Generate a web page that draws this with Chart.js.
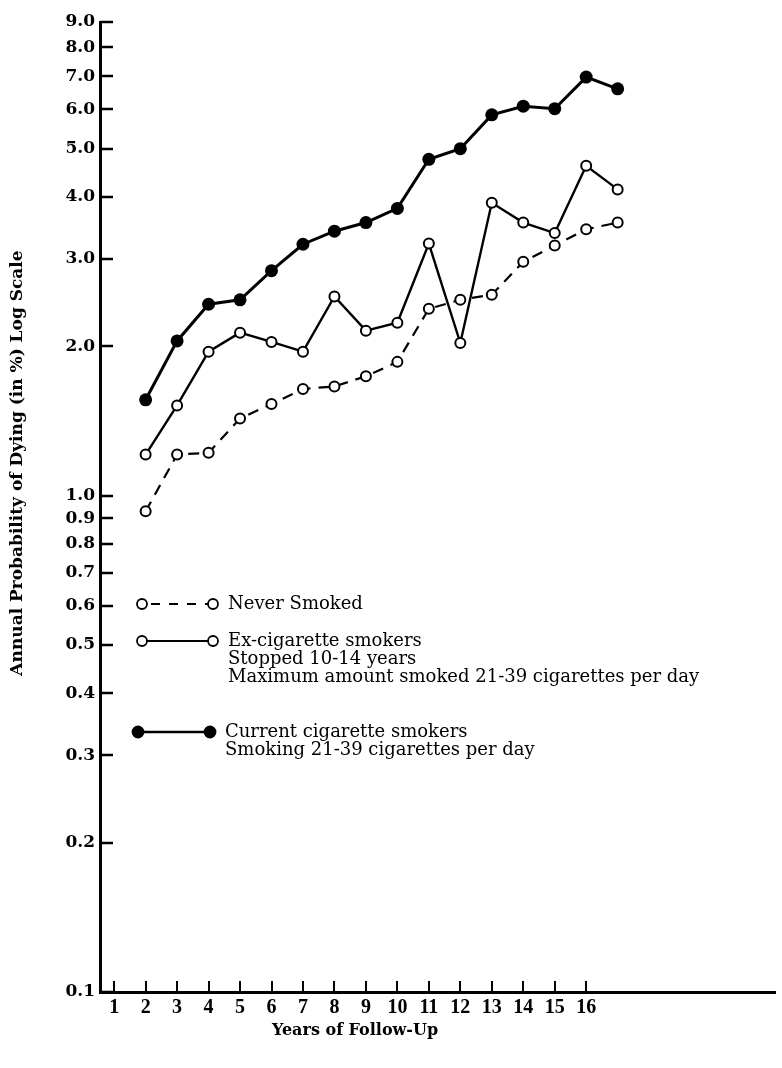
<!DOCTYPE html>
<html>
<head>
<meta charset="utf-8">
<title>Annual Probability of Dying</title>
<script src="https://cdn.jsdelivr.net/npm/chart.js@4.4.1/dist/chart.umd.min.js"></script>
<style>
  html, body { margin: 0; padding: 0; background: #fff; }
  #wrap { width: 782px; height: 1068px; }
</style>
</head>
<body>
<div id="wrap"><canvas id="chart" width="782" height="1068"></canvas></div>
<script>
// years of follow-up at which rates were plotted
const years = [2, 3, 4, 5, 6, 7, 8, 9, 10, 11, 12, 13, 14, 15, 16, 17];
const yearTicks = [1, 2, 3, 4, 5, 6, 7, 8, 9, 10, 11, 12, 13, 14, 15, 16];
const probTicks = [0.1, 0.2, 0.3, 0.4, 0.5, 0.6, 0.7, 0.8, 0.9, 1, 2, 3, 4, 5, 6, 7, 8, 9];

// annual probability of dying, in %
const neverSmoked = [0.93, 1.21, 1.22, 1.43, 1.53, 1.64, 1.66, 1.74, 1.86, 2.38, 2.48, 2.54, 2.96, 3.19, 3.44, 3.55];
const exSmokers = [1.21, 1.52, 1.95, 2.13, 2.04, 1.95, 2.52, 2.15, 2.23, 3.22, 2.03, 3.89, 3.55, 3.38, 4.62, 4.14];
const currentSmokers = [1.56, 2.05, 2.43, 2.48, 2.84, 3.21, 3.41, 3.55, 3.79, 4.76, 5.0, 5.85, 6.09, 6.02, 6.97, 6.6];

const legendItems = [
  { lines: ['Never Smoked'], dashed: true, filled: false, y: 604 },
  { lines: ['Ex-cigarette smokers', 'Stopped 10-14 years', 'Maximum amount smoked 21-39 cigarettes per day'], dashed: false, filled: false, y: 641 },
  { lines: ['Current cigarette smokers', 'Smoking 21-39 cigarettes per day'], dashed: false, filled: true, y: 732 }
];

const serif = '"DejaVu Serif", "Liberation Serif", serif';

function toPoints(values) {
  return years.map((yr, i) => ({ x: yr, y: values[i] }));
}

// tick marks point into the plot, so draw them ourselves
const innerTicks = {
  id: 'innerTicks',
  afterDraw(chart) {
    const { ctx, chartArea, scales } = chart;
    ctx.save();
    ctx.strokeStyle = '#000';
    ctx.lineWidth = 2.5;
    probTicks.forEach(v => {
      const py = Math.round(scales.y.getPixelForValue(v));
      ctx.beginPath();
      ctx.moveTo(chartArea.left, py);
      ctx.lineTo(chartArea.left + 13, py);
      ctx.stroke();
    });
    ctx.lineWidth = 2;
    yearTicks.forEach(v => {
      const px = Math.round(scales.x.getPixelForValue(v));
      ctx.beginPath();
      ctx.moveTo(px, chartArea.bottom);
      ctx.lineTo(px, chartArea.bottom - 11);
      ctx.stroke();
    });
    ctx.restore();
  }
};

const titlesAndKey = {
  id: 'titlesAndKey',
  afterDraw(chart) {
    const { ctx } = chart;
    ctx.save();
    ctx.fillStyle = '#000';
    ctx.strokeStyle = '#000';
    ctx.textAlign = 'center';
    ctx.textBaseline = 'middle';

    // axis titles
    ctx.font = 'bold 17px ' + serif;
    ctx.save();
    ctx.translate(18, 463);
    ctx.rotate(-Math.PI / 2);
    ctx.fillText('Annual Probability of Dying (in %) Log Scale', 0, 0);
    ctx.restore();
    ctx.font = 'bold 16px ' + serif;
    ctx.fillText('Years of Follow-Up', 355, 1031);

    // key
    legendItems.forEach(item => {
      const x1 = item.filled ? 138 : 142;
      const x2 = item.filled ? 210 : 213;
      const r = item.filled ? 5.5 : 5;
      ctx.lineWidth = item.filled ? 2.5 : 2;
      ctx.setLineDash(item.dashed ? [9, 9] : []);
      ctx.beginPath();
      ctx.moveTo(x1 + (item.dashed ? 9 : 0), item.y);
      ctx.lineTo(x2, item.y);
      ctx.stroke();
      ctx.setLineDash([]);
      [x1, x2].forEach(cx => {
        ctx.beginPath();
        ctx.arc(cx, item.y, r, 0, Math.PI * 2);
        ctx.fillStyle = item.filled ? '#000' : '#fff';
        ctx.fill();
        ctx.lineWidth = 1.8;
        ctx.stroke();
      });
      ctx.fillStyle = '#000';
      ctx.textAlign = 'left';
      ctx.font = '18px ' + serif;
      item.lines.forEach((line, i) => {
        ctx.fillText(line, x2 + 15, item.y + i * 18);
      });
    });
    ctx.restore();
  }
};

new Chart(document.getElementById('chart'), {
  type: 'line',
  data: {
    datasets: [
      {
        label: 'Never Smoked',
        data: toPoints(neverSmoked),
        borderColor: '#000',
        borderWidth: 2.2,
        borderDash: [11, 8],
        pointRadius: 5,
        pointBorderWidth: 2,
        pointBackgroundColor: '#fff',
        pointBorderColor: '#000',
        tension: 0
      },
      {
        label: 'Ex-cigarette smokers',
        data: toPoints(exSmokers),
        borderColor: '#000',
        borderWidth: 2.4,
        pointRadius: 5,
        pointBorderWidth: 2,
        pointBackgroundColor: '#fff',
        pointBorderColor: '#000',
        tension: 0
      },
      {
        label: 'Current cigarette smokers',
        data: toPoints(currentSmokers),
        borderColor: '#000',
        borderWidth: 3,
        pointRadius: 6.5,
        pointBorderWidth: 0,
        pointBackgroundColor: '#000',
        pointBorderColor: '#000',
        tension: 0
      }
    ]
  },
  options: {
    responsive: false,
    animation: false,
    layout: { padding: { top: 22, left: 0, right: 0, bottom: 0 } },
    plugins: {
      legend: { display: false },
      tooltip: { enabled: false }
    },
    scales: {
      x: {
        type: 'linear',
        min: 0.55,
        max: 22.0,
        afterBuildTicks: scale => { scale.ticks = yearTicks.map(v => ({ value: v })); },
        afterFit: scale => { scale.height = 76; scale.paddingRight = 0; },
        grid: { display: false, drawTicks: false },
        border: { display: true, color: '#000', width: 3 },
        ticks: {
          color: '#000',
          padding: 4,
          autoSkip: false,
          maxRotation: 0,
          font: { family: '"Liberation Serif", serif', size: 20, weight: 'bold' }
        }
      },
      y: {
        type: 'logarithmic',
        min: 0.1,
        max: 9,
        afterBuildTicks: scale => { scale.ticks = probTicks.map(v => ({ value: v })); },
        afterFit: scale => { scale.width = 100; },
        grid: { display: false, drawTicks: false },
        border: { display: true, color: '#000', width: 3 },
        ticks: {
          color: '#000',
          padding: 5,
          autoSkip: false,
          callback: v => Number(v).toFixed(1),
          font: { family: serif, size: 17, weight: 'bold' }
        }
      }
    }
  },
  plugins: [innerTicks, titlesAndKey]
});
</script>
</body>
</html>
